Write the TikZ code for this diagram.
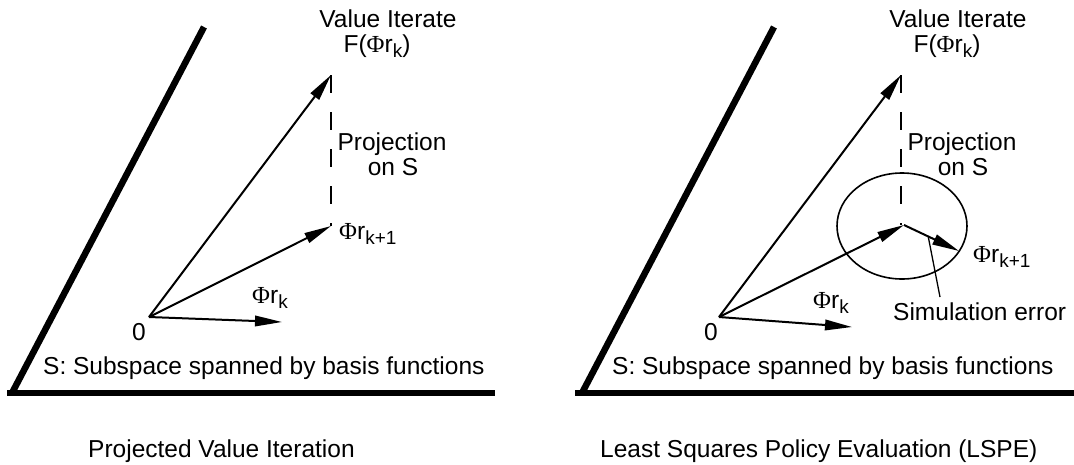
\documentclass[tikz,border=0pt]{standalone}
\usepackage{fontspec}
\setmainfont{Liberation Sans}
\newfontfamily\phifont{Liberation Serif}
\usetikzlibrary{arrows.meta}
\newcommand{\myphi}{{\phifont Φ}}
\newcommand{\lowidx}[1]{\raisebox{-5pt}{\fontsize{19}{19}\selectfont #1}}
\begin{document}
\begin{tikzpicture}[x=1pt,y=-1pt,
  lbl/.style={font=\fontsize{24.5}{25}\selectfont, inner sep=0pt},
  vec/.style={line width=2pt, -{Triangle[length=27pt,width=10.5pt]}},
  axisline/.style={line width=6.5pt},
  projline/.style={line width=1.5pt, dash pattern=on 18pt off 19pt},
  thinline/.style={line width=1.3pt}]
\useasboundingbox (0,0) rectangle (1074,464);
% ---------- left panel ----------
\coordinate (A1) at (12,393);
\coordinate (B1) at (204,27);
\coordinate (C1) at (7,393);
\coordinate (D1) at (495,393);
\coordinate (O1) at (149,317);
\coordinate (F1) at (331,75);
\coordinate (P1) at (331,226);
\coordinate (R1) at (282,322);
\draw[axisline] (A1) -- (B1);
\draw[axisline] (C1) -- (D1);
\draw[projline] (F1) -- (P1);
\draw[vec] (O1) -- (F1);
\draw[vec] (O1) -- (P1);
\draw[vec] (O1) -- (R1);
\node[lbl, anchor=base] (vi1) at (388,27) {Value Iterate};
\node[lbl, anchor=base] (fl1) at (377,52) {F(\myphi r\lowidx{k})};
\node[lbl, anchor=base] (pr1) at (392,150) {Projection};
\node[lbl, anchor=base] (os1) at (393,175) {on S};
\node[lbl, anchor=base west] (pl1) at (339,239) {\myphi r\lowidx{k+1}};
\node[lbl, anchor=base west] (rl1) at (252,303) {\myphi r\lowidx{k}};
\node[lbl, anchor=base] (z1) at (139,340) {0};
\node[lbl, anchor=base west] (s1) at (43,374) {S: Subspace spanned by basis functions};
\node[lbl, anchor=base west] (cap1) at (88,457) {Projected Value Iteration};
% ---------- right panel ----------
\coordinate (A2) at (582,393);
\coordinate (B2) at (774,27);
\coordinate (C2) at (575,393);
\coordinate (D2) at (1074,393);
\coordinate (O2) at (719,317);
\coordinate (F2) at (901,75);
\coordinate (M2) at (904,225);
\coordinate (T2) at (959,251);
\coordinate (R2) at (852,327);
\coordinate (Q2) at (940,297);
\draw[axisline] (A2) -- (B2);
\draw[axisline] (C2) -- (D2);
\draw[projline] (F2) -- (F2 |- M2);
\draw[line width=1.6pt] (902,226) ellipse [x radius=65, y radius=53];
\draw[vec] (O2) -- (F2);
\draw[vec] (O2) -- (M2);
\draw[vec] (M2) -- (T2) coordinate[pos=0.44] (E2);
\draw[vec] (O2) -- (R2);
\draw[thinline] (E2) -- (Q2);
\node[lbl, anchor=base] (vi2) at (958,27) {Value Iterate};
\node[lbl, anchor=base] (fl2) at (947,52) {F(\myphi r\lowidx{k})};
\node[lbl, anchor=base] (pr2) at (962,150) {Projection};
\node[lbl, anchor=base] (os2) at (963,175) {on S};
\node[lbl, anchor=base west] (pl2) at (973,262) {\myphi r\lowidx{k+1}};
\node[lbl, anchor=base west] (rl2) at (813,308) {\myphi r\lowidx{k}};
\node[lbl, anchor=base west] (se2) at (893,320) {Simulation error};
\node[lbl, anchor=base] (z2) at (711,340) {0};
\node[lbl, anchor=base west] (s2) at (612,374) {S: Subspace spanned by basis functions};
\node[lbl, anchor=base west] (cap2) at (600,457) {Least Squares Policy Evaluation (LSPE)};
\end{tikzpicture}
\end{document}
